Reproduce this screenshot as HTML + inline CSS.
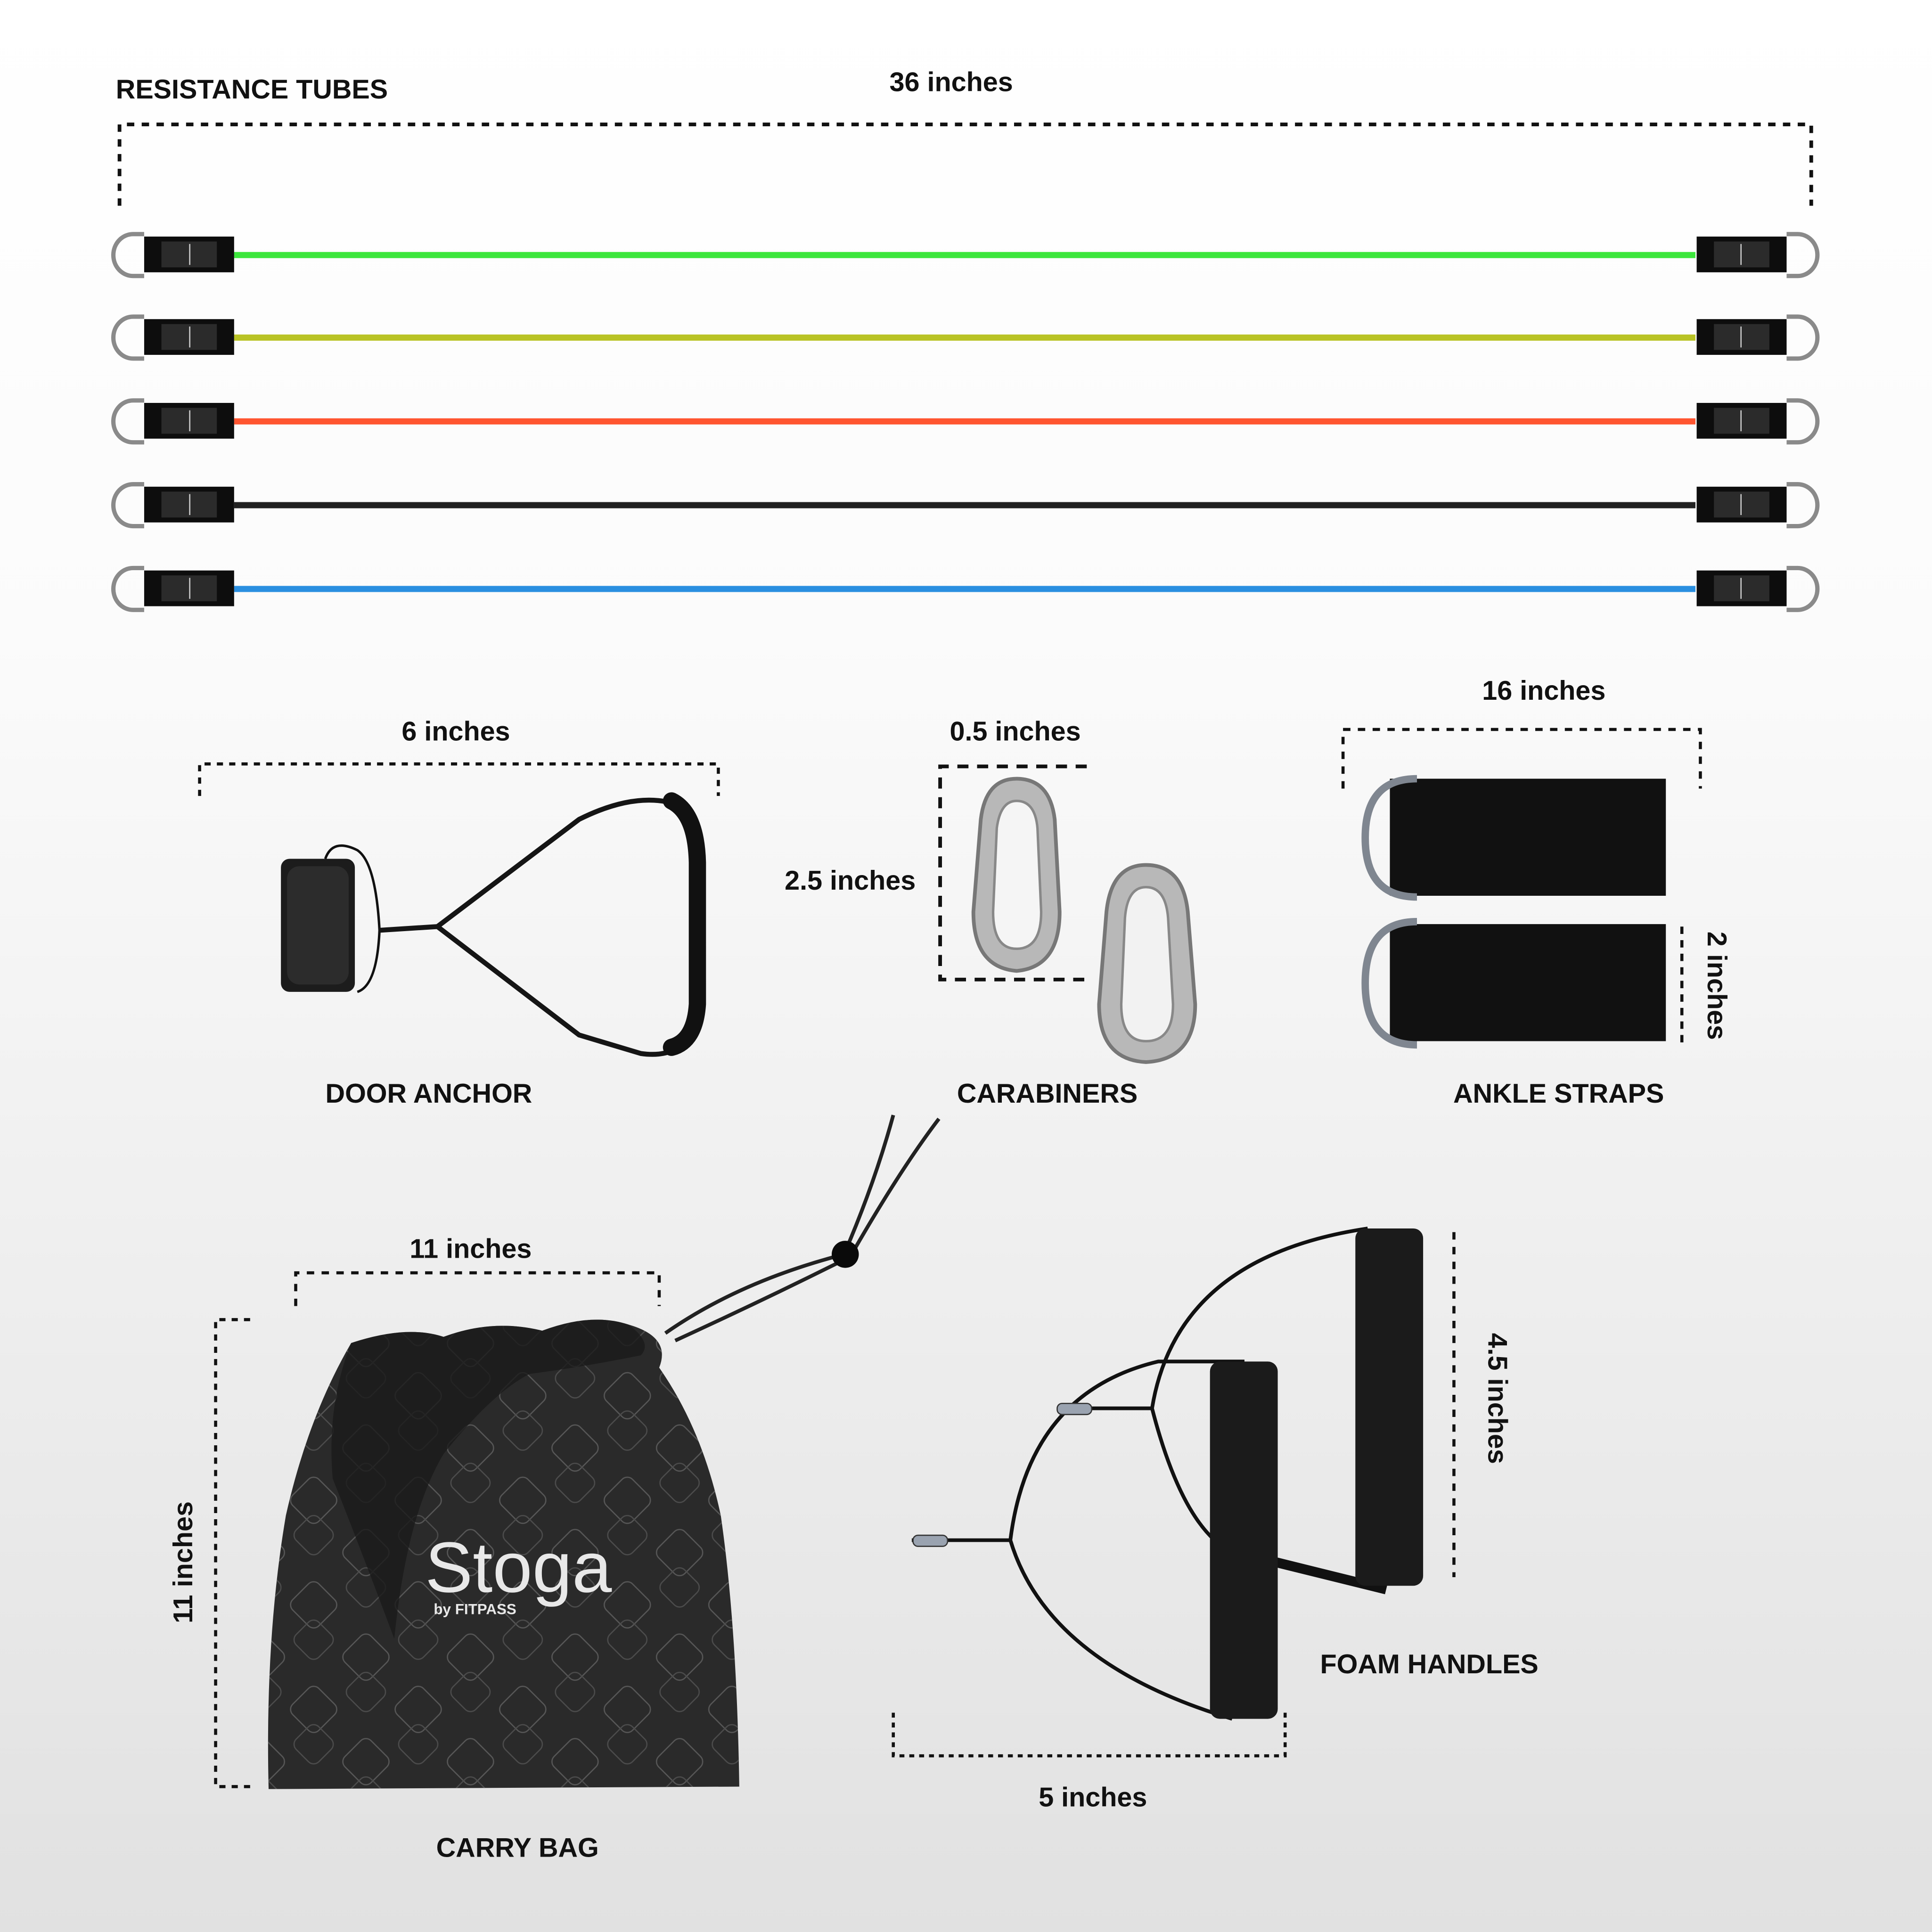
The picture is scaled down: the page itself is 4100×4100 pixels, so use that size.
<!DOCTYPE html>
<html><head><meta charset="utf-8"><style>
html,body{margin:0;padding:0;width:4100px;height:4100px;overflow:hidden}
svg{display:block}
text{font-family:"Liberation Sans",sans-serif;font-weight:bold;fill:#111}
</style></head><body>
<svg width="4100" height="4100" viewBox="0 0 1568 1568" xmlns="http://www.w3.org/2000/svg">
<defs>
<linearGradient id="bg" x1="0" y1="0" x2="0" y2="1">
<stop offset="0" stop-color="#ffffff"/><stop offset="0.33" stop-color="#fbfbfb"/><stop offset="1" stop-color="#e1e1e1"/>
</linearGradient>
<g id="tubeL">
<path d="M117,-17 L108,-17 A16,17 0 0 0 108,17 L117,17" fill="none" stroke="#8a8a8a" stroke-width="3.5"/>
<rect x="117" y="-15" width="73" height="29" fill="#0d0d0d"/>
<rect x="131" y="-11" width="45" height="21" fill="#2b2b2b"/>
<line x1="154" y1="-9" x2="154" y2="8" stroke="#ccc" stroke-width="1"/>
</g>
<pattern id="pat" width="60" height="60" patternUnits="userSpaceOnUse" patternTransform="rotate(45)">
<rect x="6" y="6" width="30" height="30" rx="6" fill="none" stroke="#6a6a6a" stroke-width="1"/>
<rect x="28" y="28" width="26" height="26" rx="6" fill="none" stroke="#5a5a5a" stroke-width="1"/>
</pattern>
</defs>
<rect width="1568" height="1568" fill="url(#bg)"/>

<!-- Resistance tubes -->
<text x="94" y="80" font-size="22">RESISTANCE TUBES</text>
<text x="772" y="74" font-size="22" text-anchor="middle">36 inches</text>
<path d="M97,167 V101 H1470 V167" fill="none" stroke="#111" stroke-width="3" stroke-dasharray="6,6"/>
<g>
<line x1="190" y1="207" x2="1376" y2="207" stroke="#3de63d" stroke-width="5"/>
<line x1="190" y1="274" x2="1376" y2="274" stroke="#b9c325" stroke-width="5"/>
<line x1="190" y1="342" x2="1376" y2="342" stroke="#ff5530" stroke-width="5"/>
<line x1="190" y1="410" x2="1376" y2="410" stroke="#222" stroke-width="5"/>
<line x1="190" y1="478" x2="1376" y2="478" stroke="#2a8fe0" stroke-width="5"/>
</g>
<use href="#tubeL" y="207"/><use href="#tubeL" y="274"/><use href="#tubeL" y="342"/><use href="#tubeL" y="410"/><use href="#tubeL" y="478"/>
<g transform="translate(1567,0) scale(-1,1)">
<use href="#tubeL" y="207"/><use href="#tubeL" y="274"/><use href="#tubeL" y="342"/><use href="#tubeL" y="410"/><use href="#tubeL" y="478"/>
</g>

<!-- Door anchor -->
<text x="370" y="601" font-size="22" text-anchor="middle">6 inches</text>
<path d="M162,646 V620 H583 V646" fill="none" stroke="#111" stroke-width="2.5" stroke-dasharray="5,5"/>
<path d="M264,697 Q270,680 290,690 Q305,700 308,755 Q306,800 290,805" fill="none" stroke="#111" stroke-width="2"/>
<rect x="228" y="697" width="60" height="108" rx="7" fill="#1c1c1c"/>
<rect x="233" y="703" width="50" height="96" rx="10" fill="#2c2c2c"/>
<path d="M308,755 L355,752 L470,665 Q520,640 555,655 L565,690 L565,830 Q555,860 520,855 L470,840 L355,752" fill="none" stroke="#151515" stroke-width="4"/>
<path d="M545,650 Q565,660 566,700 L566,815 Q564,845 545,850" fill="none" stroke="#111" stroke-width="14" stroke-linecap="round"/>
<text x="348" y="895" font-size="22" text-anchor="middle">DOOR ANCHOR</text>

<!-- Carabiners -->
<text x="824" y="601" font-size="22" text-anchor="middle">0.5 inches</text>
<text x="690" y="722" font-size="22" text-anchor="middle">2.5 inches</text>
<path d="M882,622 H763 V795 H882" fill="none" stroke="#111" stroke-width="3" stroke-dasharray="9,7"/>
<path d="M825,632 Q852,632 856,665 L860,740 Q860,785 825,788 Q790,785 790,740 L796,665 Q800,632 825,632 Z" fill="#b8b8b8" stroke="#777" stroke-width="3"/>
<path d="M825,650 Q840,650 842,672 L845,740 Q845,770 825,770 Q806,770 806,740 L809,672 Q812,650 825,650 Z" fill="#f5f5f5" stroke="#888" stroke-width="2"/>
<path d="M930,702 Q960,702 964,740 L970,815 Q970,860 930,862 Q892,860 892,815 L898,740 Q902,702 930,702 Z" fill="#b8b8b8" stroke="#777" stroke-width="3"/>
<path d="M930,720 Q946,720 948,745 L952,815 Q952,845 930,845 Q910,845 910,815 L913,745 Q915,720 930,720 Z" fill="#f2f2f2" stroke="#888" stroke-width="2"/>
<text x="850" y="895" font-size="22" text-anchor="middle">CARABINERS</text>

<!-- Ankle straps -->
<text x="1253" y="568" font-size="22" text-anchor="middle">16 inches</text>
<path d="M1090,640 V592 H1380 V640" fill="none" stroke="#111" stroke-width="2.5" stroke-dasharray="6,6"/>
<rect x="1128" y="632" width="224" height="95" fill="#111"/>
<path d="M1150,632 Q1108,632 1108,680 Q1108,728 1150,728" fill="none" stroke="#7f8690" stroke-width="6"/>
<rect x="1128" y="750" width="224" height="95" fill="#111"/>
<path d="M1150,748 Q1108,748 1108,798 Q1108,848 1150,848" fill="none" stroke="#7f8690" stroke-width="6"/>
<line x1="1365" y1="752" x2="1365" y2="848" stroke="#111" stroke-width="2.5" stroke-dasharray="6,5"/>
<text font-size="22" transform="translate(1386,800) rotate(90)" text-anchor="middle">2 inches</text>
<text x="1265" y="895" font-size="22" text-anchor="middle">ANKLE STRAPS</text>

<!-- Carry bag -->
<text x="382" y="1021" font-size="22" text-anchor="middle">11 inches</text>
<path d="M240,1060 V1033 H535 V1060" fill="none" stroke="#111" stroke-width="2.5" stroke-dasharray="6,6"/>
<path d="M203,1071 H175 V1450 H203" fill="none" stroke="#111" stroke-width="2.5" stroke-dasharray="5,5"/>
<text font-size="22" transform="translate(156,1268) rotate(-90)" text-anchor="middle">11 inches</text>
<path d="M540,1082 Q600,1040 685,1018 Q710,960 725,905 M548,1088 Q620,1055 690,1020 Q730,950 762,908" fill="none" stroke="#222" stroke-width="3"/>
<circle cx="686" cy="1018" r="11" fill="#0a0a0a"/>
<path d="M285,1090 Q330,1075 360,1085 Q400,1070 440,1080 Q480,1065 510,1075 Q545,1085 535,1110 Q570,1160 585,1230 Q598,1320 600,1450 L218,1452 Q215,1330 232,1230 Q250,1150 285,1090 Z" fill="#2a2a2a"/>
<path d="M285,1090 Q330,1075 360,1085 Q400,1070 440,1080 Q480,1065 510,1075 Q545,1085 535,1110 Q570,1160 585,1230 Q598,1320 600,1450 L218,1452 Q215,1330 232,1230 Q250,1150 285,1090 Z" fill="url(#pat)" opacity="0.7"/>
<path d="M285,1090 Q330,1075 360,1085 Q400,1070 440,1080 Q480,1065 510,1075 Q530,1090 520,1100 Q470,1110 430,1115 Q400,1130 360,1180 Q330,1230 320,1330 Q290,1250 270,1200 Q265,1140 285,1090 Z" fill="#1a1a1a" opacity="0.8"/>
<text x="345" y="1292" font-size="58" font-weight="normal" style="fill:#e8e8e8;font-weight:normal">Stoga</text>
<text x="352" y="1310" font-size="12" style="fill:#e8e8e8">by FITPASS</text>
<text x="420" y="1507" font-size="22" text-anchor="middle">CARRY BAG</text>

<!-- Foam handles -->
<path d="M740,1250 L820,1250 Q835,1130 940,1105 L1010,1105 M820,1250 Q850,1350 1000,1395" fill="none" stroke="#111" stroke-width="3"/>
<path d="M858,1143 L935,1143 Q955,1020 1110,997 M935,1143 Q960,1240 1000,1260 M1036,1267 L1120,1290" fill="none" stroke="#111" stroke-width="3"/>
<path d="M1036,1268 L1125,1290" stroke="#111" stroke-width="8"/>
<rect x="741" y="1246" width="28" height="9" rx="4" fill="#9aa3b0" stroke="#333"/>
<rect x="858" y="1139" width="28" height="9" rx="4" fill="#9aa3b0" stroke="#333"/>
<rect x="1100" y="997" width="55" height="290" rx="8" fill="#1b1b1b"/>
<rect x="982" y="1105" width="55" height="290" rx="8" fill="#1b1b1b"/>
<line x1="1180" y1="1000" x2="1180" y2="1280" stroke="#111" stroke-width="2.5" stroke-dasharray="6,6"/>
<text font-size="22" transform="translate(1208,1135) rotate(90)" text-anchor="middle">4.5 inches</text>
<path d="M725,1390 V1425 H1043 V1390" fill="none" stroke="#111" stroke-width="2.5" stroke-dasharray="4,4"/>
<text x="887" y="1466" font-size="22" text-anchor="middle">5 inches</text>
<text x="1160" y="1358" font-size="22" text-anchor="middle">FOAM HANDLES</text>
</svg>
</body></html>
